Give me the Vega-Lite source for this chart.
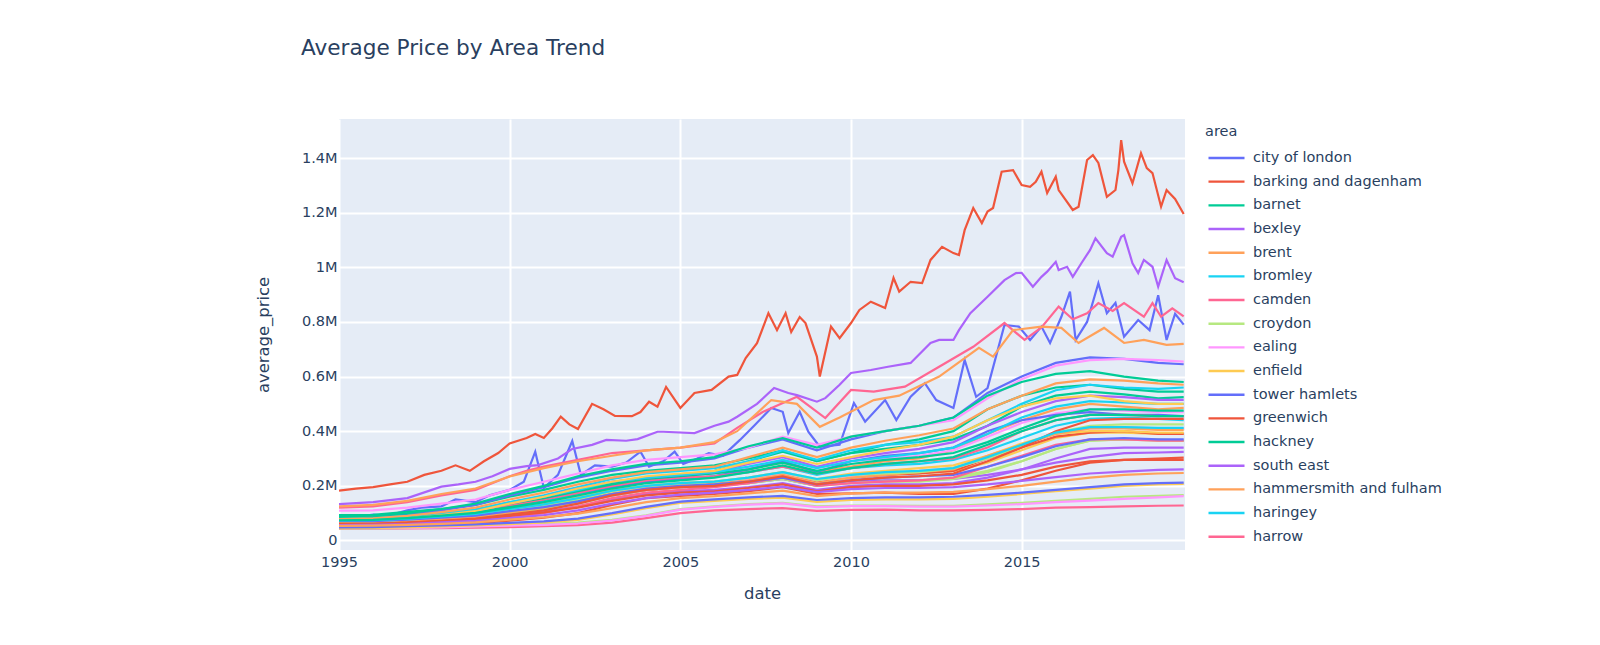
{
  "$schema": "https://vega.github.io/schema/vega-lite/v6.json",
  "width": 846,
  "height": 431,
  "autosize": {"type": "none"},
  "padding": {"left": 339, "top": 119, "right": 415, "bottom": 95},
  "background": "white",
  "title": {
    "text": "Average Price by Area Trend",
    "anchor": "start",
    "frame": "group",
    "dx": -38,
    "offset": 42,
    "baseline": "alphabetic",
    "font": "DejaVu Sans",
    "fontSize": 21.6,
    "fontWeight": "normal",
    "color": "#2a3f5f"
  },
  "data": {
    "values": [
      {"area":"city of london","date":"1995-01","price":91},{"area":"city of london","date":"1995-06","price":85},{"area":"city of london","date":"1996-01","price":95},{"area":"city of london","date":"1996-06","price":90},{"area":"city of london","date":"1997-01","price":110},{"area":"city of london","date":"1997-06","price":120},{"area":"city of london","date":"1998-01","price":125},{"area":"city of london","date":"1998-06","price":150},{"area":"city of london","date":"1999-01","price":140},{"area":"city of london","date":"1999-06","price":165},{"area":"city of london","date":"2000-01","price":185},{"area":"city of london","date":"2000-06","price":215},{"area":"city of london","date":"2000-10","price":325},{"area":"city of london","date":"2001-01","price":192},{"area":"city of london","date":"2001-06","price":240},{"area":"city of london","date":"2001-11","price":364},{"area":"city of london","date":"2002-02","price":240},{"area":"city of london","date":"2002-07","price":275},{"area":"city of london","date":"2003-01","price":270},{"area":"city of london","date":"2003-06","price":285},{"area":"city of london","date":"2003-11","price":325},{"area":"city of london","date":"2004-02","price":270},{"area":"city of london","date":"2004-07","price":290},{"area":"city of london","date":"2004-11","price":325},{"area":"city of london","date":"2005-02","price":280},{"area":"city of london","date":"2005-07","price":300},{"area":"city of london","date":"2005-11","price":320},{"area":"city of london","date":"2006-04","price":310},{"area":"city of london","date":"2006-10","price":368},{"area":"city of london","date":"2007-03","price":420},{"area":"city of london","date":"2007-09","price":485},{"area":"city of london","date":"2008-01","price":471},{"area":"city of london","date":"2008-03","price":393},{"area":"city of london","date":"2008-07","price":471},{"area":"city of london","date":"2008-10","price":398},{"area":"city of london","date":"2009-02","price":343},{"area":"city of london","date":"2009-09","price":350},{"area":"city of london","date":"2010-02","price":503},{"area":"city of london","date":"2010-06","price":435},{"area":"city of london","date":"2011-01","price":514},{"area":"city of london","date":"2011-05","price":441},{"area":"city of london","date":"2011-10","price":526},{"area":"city of london","date":"2012-03","price":576},{"area":"city of london","date":"2012-07","price":514},{"area":"city of london","date":"2013-01","price":485},{"area":"city of london","date":"2013-05","price":661},{"area":"city of london","date":"2013-09","price":526},{"area":"city of london","date":"2014-01","price":558},{"area":"city of london","date":"2014-07","price":789},{"area":"city of london","date":"2014-12","price":783},{"area":"city of london","date":"2015-04","price":734},{"area":"city of london","date":"2015-08","price":783},{"area":"city of london","date":"2015-11","price":723},{"area":"city of london","date":"2016-03","price":819},{"area":"city of london","date":"2016-06","price":911},{"area":"city of london","date":"2016-08","price":734},{"area":"city of london","date":"2016-12","price":800},{"area":"city of london","date":"2017-04","price":942},{"area":"city of london","date":"2017-07","price":832},{"area":"city of london","date":"2017-10","price":870},{"area":"city of london","date":"2018-01","price":746},{"area":"city of london","date":"2018-06","price":807},{"area":"city of london","date":"2018-10","price":770},{"area":"city of london","date":"2019-01","price":898},{"area":"city of london","date":"2019-04","price":734},{"area":"city of london","date":"2019-07","price":830},{"area":"city of london","date":"2019-10","price":790},

      {"area":"barking and dagenham","date":"1995-01","price":51},{"area":"barking and dagenham","date":"1996-01","price":51},{"area":"barking and dagenham","date":"1997-01","price":53},{"area":"barking and dagenham","date":"1998-01","price":57},{"area":"barking and dagenham","date":"1999-01","price":62},{"area":"barking and dagenham","date":"2000-01","price":72},{"area":"barking and dagenham","date":"2001-01","price":83},{"area":"barking and dagenham","date":"2002-01","price":100},{"area":"barking and dagenham","date":"2003-01","price":130},{"area":"barking and dagenham","date":"2004-01","price":155},{"area":"barking and dagenham","date":"2005-01","price":163},{"area":"barking and dagenham","date":"2006-01","price":170},{"area":"barking and dagenham","date":"2007-01","price":180},{"area":"barking and dagenham","date":"2008-01","price":195},{"area":"barking and dagenham","date":"2009-01","price":170},{"area":"barking and dagenham","date":"2010-01","price":172},{"area":"barking and dagenham","date":"2011-01","price":175},{"area":"barking and dagenham","date":"2012-01","price":170},{"area":"barking and dagenham","date":"2013-01","price":170},{"area":"barking and dagenham","date":"2014-01","price":190},{"area":"barking and dagenham","date":"2015-01","price":220},{"area":"barking and dagenham","date":"2016-01","price":255},{"area":"barking and dagenham","date":"2017-01","price":285},{"area":"barking and dagenham","date":"2018-01","price":295},{"area":"barking and dagenham","date":"2019-01","price":300},{"area":"barking and dagenham","date":"2019-10","price":303},

      {"area":"barnet","date":"1995-01","price":93},{"area":"barnet","date":"1996-01","price":94},{"area":"barnet","date":"1997-01","price":105},{"area":"barnet","date":"1998-01","price":115},{"area":"barnet","date":"1999-01","price":130},{"area":"barnet","date":"2000-01","price":160},{"area":"barnet","date":"2001-01","price":185},{"area":"barnet","date":"2002-01","price":215},{"area":"barnet","date":"2003-01","price":240},{"area":"barnet","date":"2004-01","price":255},{"area":"barnet","date":"2005-01","price":265},{"area":"barnet","date":"2006-01","price":275},{"area":"barnet","date":"2007-01","price":300},{"area":"barnet","date":"2008-01","price":330},{"area":"barnet","date":"2009-01","price":290},{"area":"barnet","date":"2010-01","price":320},{"area":"barnet","date":"2011-01","price":335},{"area":"barnet","date":"2012-01","price":350},{"area":"barnet","date":"2013-01","price":370},{"area":"barnet","date":"2014-01","price":420},{"area":"barnet","date":"2015-01","price":490},{"area":"barnet","date":"2016-01","price":530},{"area":"barnet","date":"2017-01","price":545},{"area":"barnet","date":"2018-01","price":535},{"area":"barnet","date":"2019-01","price":520},{"area":"barnet","date":"2019-10","price":525},

      {"area":"bexley","date":"1995-01","price":64},{"area":"bexley","date":"1996-01","price":64},{"area":"bexley","date":"1997-01","price":68},{"area":"bexley","date":"1998-01","price":74},{"area":"bexley","date":"1999-01","price":80},{"area":"bexley","date":"2000-01","price":92},{"area":"bexley","date":"2001-01","price":105},{"area":"bexley","date":"2002-01","price":125},{"area":"bexley","date":"2003-01","price":150},{"area":"bexley","date":"2004-01","price":170},{"area":"bexley","date":"2005-01","price":180},{"area":"bexley","date":"2006-01","price":185},{"area":"bexley","date":"2007-01","price":195},{"area":"bexley","date":"2008-01","price":210},{"area":"bexley","date":"2009-01","price":185},{"area":"bexley","date":"2010-01","price":200},{"area":"bexley","date":"2011-01","price":205},{"area":"bexley","date":"2012-01","price":205},{"area":"bexley","date":"2013-01","price":210},{"area":"bexley","date":"2014-01","price":230},{"area":"bexley","date":"2015-01","price":260},{"area":"bexley","date":"2016-01","price":300},{"area":"bexley","date":"2017-01","price":335},{"area":"bexley","date":"2018-01","price":340},{"area":"bexley","date":"2019-01","price":340},{"area":"bexley","date":"2019-10","price":340},

      {"area":"brent","date":"1995-01","price":71},{"area":"brent","date":"1996-01","price":73},{"area":"brent","date":"1997-01","price":80},{"area":"brent","date":"1998-01","price":90},{"area":"brent","date":"1999-01","price":100},{"area":"brent","date":"2000-01","price":120},{"area":"brent","date":"2001-01","price":140},{"area":"brent","date":"2002-01","price":170},{"area":"brent","date":"2003-01","price":200},{"area":"brent","date":"2004-01","price":215},{"area":"brent","date":"2005-01","price":225},{"area":"brent","date":"2006-01","price":235},{"area":"brent","date":"2007-01","price":260},{"area":"brent","date":"2008-01","price":285},{"area":"brent","date":"2009-01","price":250},{"area":"brent","date":"2010-01","price":270},{"area":"brent","date":"2011-01","price":290},{"area":"brent","date":"2012-01","price":300},{"area":"brent","date":"2013-01","price":330},{"area":"brent","date":"2014-01","price":390},{"area":"brent","date":"2015-01","price":440},{"area":"brent","date":"2016-01","price":480},{"area":"brent","date":"2017-01","price":500},{"area":"brent","date":"2018-01","price":490},{"area":"brent","date":"2019-01","price":480},{"area":"brent","date":"2019-10","price":485},

      {"area":"bromley","date":"1995-01","price":81},{"area":"bromley","date":"1996-01","price":83},{"area":"bromley","date":"1997-01","price":90},{"area":"bromley","date":"1998-01","price":98},{"area":"bromley","date":"1999-01","price":108},{"area":"bromley","date":"2000-01","price":125},{"area":"bromley","date":"2001-01","price":143},{"area":"bromley","date":"2002-01","price":165},{"area":"bromley","date":"2003-01","price":195},{"area":"bromley","date":"2004-01","price":215},{"area":"bromley","date":"2005-01","price":225},{"area":"bromley","date":"2006-01","price":235},{"area":"bromley","date":"2007-01","price":250},{"area":"bromley","date":"2008-01","price":270},{"area":"bromley","date":"2009-01","price":240},{"area":"bromley","date":"2010-01","price":265},{"area":"bromley","date":"2011-01","price":275},{"area":"bromley","date":"2012-01","price":280},{"area":"bromley","date":"2013-01","price":295},{"area":"bromley","date":"2014-01","price":330},{"area":"bromley","date":"2015-01","price":375},{"area":"bromley","date":"2016-01","price":420},{"area":"bromley","date":"2017-01","price":445},{"area":"bromley","date":"2018-01","price":450},{"area":"bromley","date":"2019-01","price":445},{"area":"bromley","date":"2019-10","price":440},

      {"area":"camden","date":"1995-01","price":120},{"area":"camden","date":"1996-01","price":125},{"area":"camden","date":"1997-01","price":140},{"area":"camden","date":"1998-01","price":165},{"area":"camden","date":"1999-01","price":185},{"area":"camden","date":"2000-01","price":235},{"area":"camden","date":"2000-07","price":255},{"area":"camden","date":"2001-01","price":270},{"area":"camden","date":"2002-01","price":295},{"area":"camden","date":"2003-01","price":320},{"area":"camden","date":"2004-01","price":330},{"area":"camden","date":"2005-01","price":340},{"area":"camden","date":"2006-01","price":355},{"area":"camden","date":"2006-09","price":412},{"area":"camden","date":"2007-06","price":470},{"area":"camden","date":"2008-06","price":526},{"area":"camden","date":"2009-04","price":448},{"area":"camden","date":"2010-01","price":551},{"area":"camden","date":"2010-09","price":545},{"area":"camden","date":"2011-08","price":563},{"area":"camden","date":"2012-08","price":636},{"area":"camden","date":"2013-08","price":709},{"area":"camden","date":"2014-07","price":796},{"area":"camden","date":"2015-02","price":734},{"area":"camden","date":"2015-08","price":780},{"area":"camden","date":"2016-02","price":856},{"area":"camden","date":"2016-07","price":810},{"area":"camden","date":"2016-12","price":832},{"area":"camden","date":"2017-04","price":869},{"area":"camden","date":"2017-09","price":840},{"area":"camden","date":"2018-01","price":869},{"area":"camden","date":"2018-08","price":819},{"area":"camden","date":"2018-11","price":869},{"area":"camden","date":"2019-02","price":819},{"area":"camden","date":"2019-06","price":850},{"area":"camden","date":"2019-10","price":820},

      {"area":"croydon","date":"1995-01","price":69},{"area":"croydon","date":"1996-01","price":70},{"area":"croydon","date":"1997-01","price":75},{"area":"croydon","date":"1998-01","price":82},{"area":"croydon","date":"1999-01","price":90},{"area":"croydon","date":"2000-01","price":105},{"area":"croydon","date":"2001-01","price":120},{"area":"croydon","date":"2002-01","price":140},{"area":"croydon","date":"2003-01","price":165},{"area":"croydon","date":"2004-01","price":185},{"area":"croydon","date":"2005-01","price":195},{"area":"croydon","date":"2006-01","price":200},{"area":"croydon","date":"2007-01","price":210},{"area":"croydon","date":"2008-01","price":225},{"area":"croydon","date":"2009-01","price":200},{"area":"croydon","date":"2010-01","price":215},{"area":"croydon","date":"2011-01","price":220},{"area":"croydon","date":"2012-01","price":220},{"area":"croydon","date":"2013-01","price":230},{"area":"croydon","date":"2014-01","price":255},{"area":"croydon","date":"2015-01","price":290},{"area":"croydon","date":"2016-01","price":335},{"area":"croydon","date":"2017-01","price":365},{"area":"croydon","date":"2018-01","price":370},{"area":"croydon","date":"2019-01","price":365},{"area":"croydon","date":"2019-10","price":365},

      {"area":"ealing","date":"1995-01","price":79},{"area":"ealing","date":"1996-01","price":81},{"area":"ealing","date":"1997-01","price":90},{"area":"ealing","date":"1998-01","price":100},{"area":"ealing","date":"1999-01","price":112},{"area":"ealing","date":"2000-01","price":135},{"area":"ealing","date":"2001-01","price":155},{"area":"ealing","date":"2002-01","price":180},{"area":"ealing","date":"2003-01","price":210},{"area":"ealing","date":"2004-01","price":225},{"area":"ealing","date":"2005-01","price":235},{"area":"ealing","date":"2006-01","price":245},{"area":"ealing","date":"2007-01","price":265},{"area":"ealing","date":"2008-01","price":295},{"area":"ealing","date":"2009-01","price":265},{"area":"ealing","date":"2010-01","price":290},{"area":"ealing","date":"2011-01","price":300},{"area":"ealing","date":"2012-01","price":310},{"area":"ealing","date":"2013-01","price":330},{"area":"ealing","date":"2014-01","price":380},{"area":"ealing","date":"2015-01","price":430},{"area":"ealing","date":"2016-01","price":465},{"area":"ealing","date":"2017-01","price":480},{"area":"ealing","date":"2018-01","price":475},{"area":"ealing","date":"2019-01","price":470},{"area":"ealing","date":"2019-10","price":470},

      {"area":"enfield","date":"1995-01","price":72},{"area":"enfield","date":"1996-01","price":72},{"area":"enfield","date":"1997-01","price":77},{"area":"enfield","date":"1998-01","price":84},{"area":"enfield","date":"1999-01","price":92},{"area":"enfield","date":"2000-01","price":108},{"area":"enfield","date":"2001-01","price":123},{"area":"enfield","date":"2002-01","price":145},{"area":"enfield","date":"2003-01","price":175},{"area":"enfield","date":"2004-01","price":195},{"area":"enfield","date":"2005-01","price":205},{"area":"enfield","date":"2006-01","price":210},{"area":"enfield","date":"2007-01","price":220},{"area":"enfield","date":"2008-01","price":240},{"area":"enfield","date":"2009-01","price":215},{"area":"enfield","date":"2010-01","price":230},{"area":"enfield","date":"2011-01","price":240},{"area":"enfield","date":"2012-01","price":245},{"area":"enfield","date":"2013-01","price":255},{"area":"enfield","date":"2014-01","price":285},{"area":"enfield","date":"2015-01","price":330},{"area":"enfield","date":"2016-01","price":375},{"area":"enfield","date":"2017-01","price":395},{"area":"enfield","date":"2018-01","price":395},{"area":"enfield","date":"2019-01","price":390},{"area":"enfield","date":"2019-10","price":390},

      {"area":"tower hamlets","date":"1995-01","price":59},{"area":"tower hamlets","date":"1996-01","price":62},{"area":"tower hamlets","date":"1997-01","price":70},{"area":"tower hamlets","date":"1998-01","price":82},{"area":"tower hamlets","date":"1999-01","price":95},{"area":"tower hamlets","date":"2000-01","price":125},{"area":"tower hamlets","date":"2001-01","price":150},{"area":"tower hamlets","date":"2002-01","price":175},{"area":"tower hamlets","date":"2003-01","price":195},{"area":"tower hamlets","date":"2004-01","price":215},{"area":"tower hamlets","date":"2005-01","price":225},{"area":"tower hamlets","date":"2006-01","price":235},{"area":"tower hamlets","date":"2007-01","price":260},{"area":"tower hamlets","date":"2008-01","price":290},{"area":"tower hamlets","date":"2009-01","price":250},{"area":"tower hamlets","date":"2010-01","price":290},{"area":"tower hamlets","date":"2011-01","price":310},{"area":"tower hamlets","date":"2012-01","price":320},{"area":"tower hamlets","date":"2013-01","price":340},{"area":"tower hamlets","date":"2014-01","price":400},{"area":"tower hamlets","date":"2015-01","price":440},{"area":"tower hamlets","date":"2016-01","price":460},{"area":"tower hamlets","date":"2017-01","price":470},{"area":"tower hamlets","date":"2018-01","price":460},{"area":"tower hamlets","date":"2019-01","price":460},{"area":"tower hamlets","date":"2019-10","price":455},

      {"area":"greenwich","date":"1995-01","price":62},{"area":"greenwich","date":"1996-01","price":63},{"area":"greenwich","date":"1997-01","price":68},{"area":"greenwich","date":"1998-01","price":77},{"area":"greenwich","date":"1999-01","price":85},{"area":"greenwich","date":"2000-01","price":100},{"area":"greenwich","date":"2001-01","price":120},{"area":"greenwich","date":"2002-01","price":145},{"area":"greenwich","date":"2003-01","price":170},{"area":"greenwich","date":"2004-01","price":185},{"area":"greenwich","date":"2005-01","price":195},{"area":"greenwich","date":"2006-01","price":205},{"area":"greenwich","date":"2007-01","price":220},{"area":"greenwich","date":"2008-01","price":240},{"area":"greenwich","date":"2009-01","price":215},{"area":"greenwich","date":"2010-01","price":230},{"area":"greenwich","date":"2011-01","price":240},{"area":"greenwich","date":"2012-01","price":245},{"area":"greenwich","date":"2013-01","price":255},{"area":"greenwich","date":"2014-01","price":300},{"area":"greenwich","date":"2015-01","price":340},{"area":"greenwich","date":"2016-01","price":380},{"area":"greenwich","date":"2017-01","price":395},{"area":"greenwich","date":"2018-01","price":400},{"area":"greenwich","date":"2019-01","price":390},{"area":"greenwich","date":"2019-10","price":390},

      {"area":"hackney","date":"1995-01","price":61},{"area":"hackney","date":"1996-01","price":64},{"area":"hackney","date":"1997-01","price":72},{"area":"hackney","date":"1998-01","price":85},{"area":"hackney","date":"1999-01","price":100},{"area":"hackney","date":"2000-01","price":125},{"area":"hackney","date":"2001-01","price":150},{"area":"hackney","date":"2002-01","price":180},{"area":"hackney","date":"2003-01","price":210},{"area":"hackney","date":"2004-01","price":225},{"area":"hackney","date":"2005-01","price":235},{"area":"hackney","date":"2006-01","price":255},{"area":"hackney","date":"2007-01","price":290},{"area":"hackney","date":"2008-01","price":325},{"area":"hackney","date":"2009-01","price":290},{"area":"hackney","date":"2010-01","price":320},{"area":"hackney","date":"2011-01","price":350},{"area":"hackney","date":"2012-01","price":370},{"area":"hackney","date":"2013-01","price":400},{"area":"hackney","date":"2014-01","price":480},{"area":"hackney","date":"2015-01","price":530},{"area":"hackney","date":"2016-01","price":560},{"area":"hackney","date":"2017-01","price":570},{"area":"hackney","date":"2018-01","price":555},{"area":"hackney","date":"2019-01","price":545},{"area":"hackney","date":"2019-10","price":545},

      {"area":"south east","date":"1995-01","price":73},{"area":"south east","date":"1996-01","price":74},{"area":"south east","date":"1997-01","price":79},{"area":"south east","date":"1998-01","price":87},{"area":"south east","date":"1999-01","price":95},{"area":"south east","date":"2000-01","price":110},{"area":"south east","date":"2001-01","price":125},{"area":"south east","date":"2002-01","price":140},{"area":"south east","date":"2003-01","price":165},{"area":"south east","date":"2004-01","price":185},{"area":"south east","date":"2005-01","price":195},{"area":"south east","date":"2006-01","price":200},{"area":"south east","date":"2007-01","price":210},{"area":"south east","date":"2008-01","price":225},{"area":"south east","date":"2009-01","price":200},{"area":"south east","date":"2010-01","price":215},{"area":"south east","date":"2011-01","price":220},{"area":"south east","date":"2012-01","price":220},{"area":"south east","date":"2013-01","price":225},{"area":"south east","date":"2014-01","price":240},{"area":"south east","date":"2015-01","price":260},{"area":"south east","date":"2016-01","price":285},{"area":"south east","date":"2017-01","price":305},{"area":"south east","date":"2018-01","price":320},{"area":"south east","date":"2019-01","price":322},{"area":"south east","date":"2019-10","price":324},

      {"area":"hammersmith and fulham","date":"1995-01","price":125},{"area":"hammersmith and fulham","date":"1996-01","price":130},{"area":"hammersmith and fulham","date":"1997-01","price":145},{"area":"hammersmith and fulham","date":"1998-01","price":170},{"area":"hammersmith and fulham","date":"1999-01","price":190},{"area":"hammersmith and fulham","date":"2000-01","price":234},{"area":"hammersmith and fulham","date":"2001-01","price":265},{"area":"hammersmith and fulham","date":"2002-01","price":290},{"area":"hammersmith and fulham","date":"2003-01","price":310},{"area":"hammersmith and fulham","date":"2004-01","price":330},{"area":"hammersmith and fulham","date":"2005-01","price":340},{"area":"hammersmith and fulham","date":"2006-01","price":360},{"area":"hammersmith and fulham","date":"2006-09","price":400},{"area":"hammersmith and fulham","date":"2007-09","price":514},{"area":"hammersmith and fulham","date":"2008-06","price":500},{"area":"hammersmith and fulham","date":"2009-02","price":416},{"area":"hammersmith and fulham","date":"2009-09","price":450},{"area":"hammersmith and fulham","date":"2010-09","price":514},{"area":"hammersmith and fulham","date":"2011-06","price":530},{"area":"hammersmith and fulham","date":"2012-08","price":600},{"area":"hammersmith and fulham","date":"2013-10","price":705},{"area":"hammersmith and fulham","date":"2014-03","price":673},{"area":"hammersmith and fulham","date":"2014-10","price":770},{"area":"hammersmith and fulham","date":"2015-08","price":783},{"area":"hammersmith and fulham","date":"2016-03","price":778},{"area":"hammersmith and fulham","date":"2016-09","price":723},{"area":"hammersmith and fulham","date":"2017-06","price":778},{"area":"hammersmith and fulham","date":"2018-01","price":723},{"area":"hammersmith and fulham","date":"2018-08","price":734},{"area":"hammersmith and fulham","date":"2019-04","price":716},{"area":"hammersmith and fulham","date":"2019-10","price":720},

      {"area":"haringey","date":"1995-01","price":75},{"area":"haringey","date":"1996-01","price":77},{"area":"haringey","date":"1997-01","price":86},{"area":"haringey","date":"1998-01","price":98},{"area":"haringey","date":"1999-01","price":112},{"area":"haringey","date":"2000-01","price":140},{"area":"haringey","date":"2001-01","price":165},{"area":"haringey","date":"2002-01","price":195},{"area":"haringey","date":"2003-01","price":225},{"area":"haringey","date":"2004-01","price":245},{"area":"haringey","date":"2005-01","price":255},{"area":"haringey","date":"2006-01","price":265},{"area":"haringey","date":"2007-01","price":290},{"area":"haringey","date":"2008-01","price":330},{"area":"haringey","date":"2009-01","price":295},{"area":"haringey","date":"2010-01","price":330},{"area":"haringey","date":"2011-01","price":350},{"area":"haringey","date":"2012-01","price":360},{"area":"haringey","date":"2013-01","price":380},{"area":"haringey","date":"2014-01","price":440},{"area":"haringey","date":"2015-01","price":500},{"area":"haringey","date":"2016-01","price":550},{"area":"haringey","date":"2017-01","price":570},{"area":"haringey","date":"2018-01","price":560},{"area":"haringey","date":"2019-01","price":555},{"area":"haringey","date":"2019-10","price":560},

      {"area":"harrow","date":"1995-01","price":85},{"area":"harrow","date":"1996-01","price":86},{"area":"harrow","date":"1997-01","price":93},{"area":"harrow","date":"1998-01","price":103},{"area":"harrow","date":"1999-01","price":112},{"area":"harrow","date":"2000-01","price":130},{"area":"harrow","date":"2001-01","price":150},{"area":"harrow","date":"2002-01","price":175},{"area":"harrow","date":"2003-01","price":200},{"area":"harrow","date":"2004-01","price":220},{"area":"harrow","date":"2005-01","price":230},{"area":"harrow","date":"2006-01","price":235},{"area":"harrow","date":"2007-01","price":250},{"area":"harrow","date":"2008-01","price":270},{"area":"harrow","date":"2009-01","price":245},{"area":"harrow","date":"2010-01","price":265},{"area":"harrow","date":"2011-01","price":280},{"area":"harrow","date":"2012-01","price":290},{"area":"harrow","date":"2013-01","price":300},{"area":"harrow","date":"2014-01","price":340},{"area":"harrow","date":"2015-01","price":400},{"area":"harrow","date":"2016-01","price":440},{"area":"harrow","date":"2017-01","price":460},{"area":"harrow","date":"2018-01","price":460},{"area":"harrow","date":"2019-01","price":455},{"area":"harrow","date":"2019-10","price":455},

      {"area":"havering","date":"1995-01","price":68},{"area":"havering","date":"1996-01","price":68},{"area":"havering","date":"1997-01","price":72},{"area":"havering","date":"1998-01","price":79},{"area":"havering","date":"1999-01","price":86},{"area":"havering","date":"2000-01","price":100},{"area":"havering","date":"2001-01","price":115},{"area":"havering","date":"2002-01","price":135},{"area":"havering","date":"2003-01","price":165},{"area":"havering","date":"2004-01","price":185},{"area":"havering","date":"2005-01","price":195},{"area":"havering","date":"2006-01","price":200},{"area":"havering","date":"2007-01","price":210},{"area":"havering","date":"2008-01","price":225},{"area":"havering","date":"2009-01","price":200},{"area":"havering","date":"2010-01","price":210},{"area":"havering","date":"2011-01","price":215},{"area":"havering","date":"2012-01","price":215},{"area":"havering","date":"2013-01","price":225},{"area":"havering","date":"2014-01","price":250},{"area":"havering","date":"2015-01","price":290},{"area":"havering","date":"2016-01","price":335},{"area":"havering","date":"2017-01","price":365},{"area":"havering","date":"2018-01","price":370},{"area":"havering","date":"2019-01","price":370},{"area":"havering","date":"2019-10","price":365},

      {"area":"hillingdon","date":"1995-01","price":74},{"area":"hillingdon","date":"1996-01","price":75},{"area":"hillingdon","date":"1997-01","price":80},{"area":"hillingdon","date":"1998-01","price":88},{"area":"hillingdon","date":"1999-01","price":96},{"area":"hillingdon","date":"2000-01","price":115},{"area":"hillingdon","date":"2001-01","price":130},{"area":"hillingdon","date":"2002-01","price":155},{"area":"hillingdon","date":"2003-01","price":180},{"area":"hillingdon","date":"2004-01","price":200},{"area":"hillingdon","date":"2005-01","price":210},{"area":"hillingdon","date":"2006-01","price":215},{"area":"hillingdon","date":"2007-01","price":225},{"area":"hillingdon","date":"2008-01","price":245},{"area":"hillingdon","date":"2009-01","price":220},{"area":"hillingdon","date":"2010-01","price":235},{"area":"hillingdon","date":"2011-01","price":245},{"area":"hillingdon","date":"2012-01","price":255},{"area":"hillingdon","date":"2013-01","price":265},{"area":"hillingdon","date":"2014-01","price":300},{"area":"hillingdon","date":"2015-01","price":350},{"area":"hillingdon","date":"2016-01","price":390},{"area":"hillingdon","date":"2017-01","price":410},{"area":"hillingdon","date":"2018-01","price":415},{"area":"hillingdon","date":"2019-01","price":410},{"area":"hillingdon","date":"2019-10","price":410},

      {"area":"hounslow","date":"1995-01","price":72},{"area":"hounslow","date":"1996-01","price":73},{"area":"hounslow","date":"1997-01","price":80},{"area":"hounslow","date":"1998-01","price":88},{"area":"hounslow","date":"1999-01","price":97},{"area":"hounslow","date":"2000-01","price":115},{"area":"hounslow","date":"2001-01","price":135},{"area":"hounslow","date":"2002-01","price":160},{"area":"hounslow","date":"2003-01","price":185},{"area":"hounslow","date":"2004-01","price":200},{"area":"hounslow","date":"2005-01","price":210},{"area":"hounslow","date":"2006-01","price":215},{"area":"hounslow","date":"2007-01","price":230},{"area":"hounslow","date":"2008-01","price":250},{"area":"hounslow","date":"2009-01","price":225},{"area":"hounslow","date":"2010-01","price":245},{"area":"hounslow","date":"2011-01","price":255},{"area":"hounslow","date":"2012-01","price":265},{"area":"hounslow","date":"2013-01","price":275},{"area":"hounslow","date":"2014-01","price":310},{"area":"hounslow","date":"2015-01","price":355},{"area":"hounslow","date":"2016-01","price":390},{"area":"hounslow","date":"2017-01","price":400},{"area":"hounslow","date":"2018-01","price":400},{"area":"hounslow","date":"2019-01","price":395},{"area":"hounslow","date":"2019-10","price":395},

      {"area":"islington","date":"1995-01","price":81},{"area":"islington","date":"1996-01","price":84},{"area":"islington","date":"1997-01","price":95},{"area":"islington","date":"1998-01","price":110},{"area":"islington","date":"1999-01","price":130},{"area":"islington","date":"2000-01","price":165},{"area":"islington","date":"2001-01","price":195},{"area":"islington","date":"2002-01","price":230},{"area":"islington","date":"2003-01","price":255},{"area":"islington","date":"2004-01","price":275},{"area":"islington","date":"2005-01","price":285},{"area":"islington","date":"2006-01","price":300},{"area":"islington","date":"2007-01","price":340},{"area":"islington","date":"2008-01","price":370},{"area":"islington","date":"2009-01","price":330},{"area":"islington","date":"2010-01","price":370},{"area":"islington","date":"2011-01","price":400},{"area":"islington","date":"2012-01","price":420},{"area":"islington","date":"2013-01","price":450},{"area":"islington","date":"2014-01","price":540},{"area":"islington","date":"2015-01","price":600},{"area":"islington","date":"2016-01","price":650},{"area":"islington","date":"2017-01","price":670},{"area":"islington","date":"2018-01","price":665},{"area":"islington","date":"2019-01","price":650},{"area":"islington","date":"2019-10","price":645},

      {"area":"kensington and chelsea","date":"1995-01","price":182},{"area":"kensington and chelsea","date":"1995-07","price":190},{"area":"kensington and chelsea","date":"1996-01","price":195},{"area":"kensington and chelsea","date":"1996-07","price":205},{"area":"kensington and chelsea","date":"1997-01","price":215},{"area":"kensington and chelsea","date":"1997-07","price":240},{"area":"kensington and chelsea","date":"1998-01","price":255},{"area":"kensington and chelsea","date":"1998-06","price":275},{"area":"kensington and chelsea","date":"1998-11","price":255},{"area":"kensington and chelsea","date":"1999-04","price":290},{"area":"kensington and chelsea","date":"1999-09","price":320},{"area":"kensington and chelsea","date":"2000-01","price":355},{"area":"kensington and chelsea","date":"2000-07","price":375},{"area":"kensington and chelsea","date":"2000-10","price":390},{"area":"kensington and chelsea","date":"2001-01","price":375},{"area":"kensington and chelsea","date":"2001-04","price":410},{"area":"kensington and chelsea","date":"2001-07","price":453},{"area":"kensington and chelsea","date":"2001-10","price":425},{"area":"kensington and chelsea","date":"2002-01","price":408},{"area":"kensington and chelsea","date":"2002-06","price":500},{"area":"kensington and chelsea","date":"2002-10","price":480},{"area":"kensington and chelsea","date":"2003-02","price":456},{"area":"kensington and chelsea","date":"2003-08","price":455},{"area":"kensington and chelsea","date":"2003-11","price":470},{"area":"kensington and chelsea","date":"2004-02","price":508},{"area":"kensington and chelsea","date":"2004-05","price":490},{"area":"kensington and chelsea","date":"2004-08","price":562},{"area":"kensington and chelsea","date":"2005-01","price":485},{"area":"kensington and chelsea","date":"2005-06","price":540},{"area":"kensington and chelsea","date":"2005-12","price":551},{"area":"kensington and chelsea","date":"2006-06","price":600},{"area":"kensington and chelsea","date":"2006-09","price":606},{"area":"kensington and chelsea","date":"2006-12","price":668},{"area":"kensington and chelsea","date":"2007-04","price":722},{"area":"kensington and chelsea","date":"2007-08","price":832},{"area":"kensington and chelsea","date":"2007-11","price":770},{"area":"kensington and chelsea","date":"2008-02","price":832},{"area":"kensington and chelsea","date":"2008-04","price":763},{"area":"kensington and chelsea","date":"2008-07","price":818},{"area":"kensington and chelsea","date":"2008-09","price":796},{"area":"kensington and chelsea","date":"2009-01","price":673},{"area":"kensington and chelsea","date":"2009-02","price":600},{"area":"kensington and chelsea","date":"2009-06","price":783},{"area":"kensington and chelsea","date":"2009-09","price":741},{"area":"kensington and chelsea","date":"2010-01","price":796},{"area":"kensington and chelsea","date":"2010-04","price":844},{"area":"kensington and chelsea","date":"2010-08","price":874},{"area":"kensington and chelsea","date":"2011-01","price":851},{"area":"kensington and chelsea","date":"2011-04","price":961},{"area":"kensington and chelsea","date":"2011-06","price":911},{"area":"kensington and chelsea","date":"2011-10","price":947},{"area":"kensington and chelsea","date":"2012-02","price":942},{"area":"kensington and chelsea","date":"2012-05","price":1027},{"area":"kensington and chelsea","date":"2012-09","price":1075},{"area":"kensington and chelsea","date":"2013-01","price":1052},{"area":"kensington and chelsea","date":"2013-03","price":1045},{"area":"kensington and chelsea","date":"2013-05","price":1136},{"area":"kensington and chelsea","date":"2013-08","price":1217},{"area":"kensington and chelsea","date":"2013-11","price":1162},{"area":"kensington and chelsea","date":"2014-01","price":1204},{"area":"kensington and chelsea","date":"2014-03","price":1217},{"area":"kensington and chelsea","date":"2014-06","price":1350},{"area":"kensington and chelsea","date":"2014-10","price":1356},{"area":"kensington and chelsea","date":"2015-01","price":1301},{"area":"kensington and chelsea","date":"2015-04","price":1295},{"area":"kensington and chelsea","date":"2015-06","price":1313},{"area":"kensington and chelsea","date":"2015-08","price":1350},{"area":"kensington and chelsea","date":"2015-10","price":1272},{"area":"kensington and chelsea","date":"2016-01","price":1332},{"area":"kensington and chelsea","date":"2016-02","price":1283},{"area":"kensington and chelsea","date":"2016-07","price":1210},{"area":"kensington and chelsea","date":"2016-09","price":1222},{"area":"kensington and chelsea","date":"2016-12","price":1393},{"area":"kensington and chelsea","date":"2017-02","price":1411},{"area":"kensington and chelsea","date":"2017-04","price":1382},{"area":"kensington and chelsea","date":"2017-07","price":1258},{"area":"kensington and chelsea","date":"2017-10","price":1283},{"area":"kensington and chelsea","date":"2017-11","price":1356},{"area":"kensington and chelsea","date":"2017-12","price":1466},{"area":"kensington and chelsea","date":"2018-01","price":1387},{"area":"kensington and chelsea","date":"2018-04","price":1308},{"area":"kensington and chelsea","date":"2018-07","price":1418},{"area":"kensington and chelsea","date":"2018-09","price":1363},{"area":"kensington and chelsea","date":"2018-11","price":1345},{"area":"kensington and chelsea","date":"2019-02","price":1222},{"area":"kensington and chelsea","date":"2019-04","price":1283},{"area":"kensington and chelsea","date":"2019-07","price":1250},{"area":"kensington and chelsea","date":"2019-10","price":1195},

      {"area":"kingston upon thames","date":"1995-01","price":83},{"area":"kingston upon thames","date":"1996-01","price":84},{"area":"kingston upon thames","date":"1997-01","price":91},{"area":"kingston upon thames","date":"1998-01","price":101},{"area":"kingston upon thames","date":"1999-01","price":112},{"area":"kingston upon thames","date":"2000-01","price":135},{"area":"kingston upon thames","date":"2001-01","price":155},{"area":"kingston upon thames","date":"2002-01","price":180},{"area":"kingston upon thames","date":"2003-01","price":205},{"area":"kingston upon thames","date":"2004-01","price":225},{"area":"kingston upon thames","date":"2005-01","price":235},{"area":"kingston upon thames","date":"2006-01","price":245},{"area":"kingston upon thames","date":"2007-01","price":260},{"area":"kingston upon thames","date":"2008-01","price":285},{"area":"kingston upon thames","date":"2009-01","price":255},{"area":"kingston upon thames","date":"2010-01","price":280},{"area":"kingston upon thames","date":"2011-01","price":295},{"area":"kingston upon thames","date":"2012-01","price":305},{"area":"kingston upon thames","date":"2013-01","price":320},{"area":"kingston upon thames","date":"2014-01","price":360},{"area":"kingston upon thames","date":"2015-01","price":410},{"area":"kingston upon thames","date":"2016-01","price":455},{"area":"kingston upon thames","date":"2017-01","price":480},{"area":"kingston upon thames","date":"2018-01","price":480},{"area":"kingston upon thames","date":"2019-01","price":475},{"area":"kingston upon thames","date":"2019-10","price":475},

      {"area":"lambeth","date":"1995-01","price":67},{"area":"lambeth","date":"1996-01","price":70},{"area":"lambeth","date":"1997-01","price":80},{"area":"lambeth","date":"1998-01","price":93},{"area":"lambeth","date":"1999-01","price":107},{"area":"lambeth","date":"2000-01","price":135},{"area":"lambeth","date":"2001-01","price":160},{"area":"lambeth","date":"2002-01","price":190},{"area":"lambeth","date":"2003-01","price":215},{"area":"lambeth","date":"2004-01","price":230},{"area":"lambeth","date":"2005-01","price":240},{"area":"lambeth","date":"2006-01","price":250},{"area":"lambeth","date":"2007-01","price":280},{"area":"lambeth","date":"2008-01","price":305},{"area":"lambeth","date":"2009-01","price":270},{"area":"lambeth","date":"2010-01","price":300},{"area":"lambeth","date":"2011-01","price":320},{"area":"lambeth","date":"2012-01","price":335},{"area":"lambeth","date":"2013-01","price":360},{"area":"lambeth","date":"2014-01","price":420},{"area":"lambeth","date":"2015-01","price":470},{"area":"lambeth","date":"2016-01","price":510},{"area":"lambeth","date":"2017-01","price":530},{"area":"lambeth","date":"2018-01","price":525},{"area":"lambeth","date":"2019-01","price":515},{"area":"lambeth","date":"2019-10","price":515},

      {"area":"lewisham","date":"1995-01","price":60},{"area":"lewisham","date":"1996-01","price":62},{"area":"lewisham","date":"1997-01","price":68},{"area":"lewisham","date":"1998-01","price":77},{"area":"lewisham","date":"1999-01","price":86},{"area":"lewisham","date":"2000-01","price":103},{"area":"lewisham","date":"2001-01","price":120},{"area":"lewisham","date":"2002-01","price":145},{"area":"lewisham","date":"2003-01","price":170},{"area":"lewisham","date":"2004-01","price":185},{"area":"lewisham","date":"2005-01","price":195},{"area":"lewisham","date":"2006-01","price":205},{"area":"lewisham","date":"2007-01","price":220},{"area":"lewisham","date":"2008-01","price":240},{"area":"lewisham","date":"2009-01","price":210},{"area":"lewisham","date":"2010-01","price":230},{"area":"lewisham","date":"2011-01","price":240},{"area":"lewisham","date":"2012-01","price":250},{"area":"lewisham","date":"2013-01","price":260},{"area":"lewisham","date":"2014-01","price":310},{"area":"lewisham","date":"2015-01","price":350},{"area":"lewisham","date":"2016-01","price":390},{"area":"lewisham","date":"2017-01","price":410},{"area":"lewisham","date":"2018-01","price":410},{"area":"lewisham","date":"2019-01","price":405},{"area":"lewisham","date":"2019-10","price":405},

      {"area":"merton","date":"1995-01","price":79},{"area":"merton","date":"1996-01","price":81},{"area":"merton","date":"1997-01","price":90},{"area":"merton","date":"1998-01","price":101},{"area":"merton","date":"1999-01","price":113},{"area":"merton","date":"2000-01","price":140},{"area":"merton","date":"2001-01","price":160},{"area":"merton","date":"2002-01","price":185},{"area":"merton","date":"2003-01","price":215},{"area":"merton","date":"2004-01","price":230},{"area":"merton","date":"2005-01","price":240},{"area":"merton","date":"2006-01","price":250},{"area":"merton","date":"2007-01","price":270},{"area":"merton","date":"2008-01","price":295},{"area":"merton","date":"2009-01","price":265},{"area":"merton","date":"2010-01","price":290},{"area":"merton","date":"2011-01","price":305},{"area":"merton","date":"2012-01","price":320},{"area":"merton","date":"2013-01","price":340},{"area":"merton","date":"2014-01","price":390},{"area":"merton","date":"2015-01","price":450},{"area":"merton","date":"2016-01","price":490},{"area":"merton","date":"2017-01","price":510},{"area":"merton","date":"2018-01","price":505},{"area":"merton","date":"2019-01","price":500},{"area":"merton","date":"2019-10","price":500},

      {"area":"newham","date":"1995-01","price":53},{"area":"newham","date":"1996-01","price":54},{"area":"newham","date":"1997-01","price":58},{"area":"newham","date":"1998-01","price":64},{"area":"newham","date":"1999-01","price":71},{"area":"newham","date":"2000-01","price":85},{"area":"newham","date":"2001-01","price":100},{"area":"newham","date":"2002-01","price":125},{"area":"newham","date":"2003-01","price":155},{"area":"newham","date":"2004-01","price":175},{"area":"newham","date":"2005-01","price":185},{"area":"newham","date":"2006-01","price":195},{"area":"newham","date":"2007-01","price":210},{"area":"newham","date":"2008-01","price":230},{"area":"newham","date":"2009-01","price":200},{"area":"newham","date":"2010-01","price":210},{"area":"newham","date":"2011-01","price":215},{"area":"newham","date":"2012-01","price":220},{"area":"newham","date":"2013-01","price":230},{"area":"newham","date":"2014-01","price":270},{"area":"newham","date":"2015-01","price":310},{"area":"newham","date":"2016-01","price":350},{"area":"newham","date":"2017-01","price":370},{"area":"newham","date":"2018-01","price":370},{"area":"newham","date":"2019-01","price":365},{"area":"newham","date":"2019-10","price":365},

      {"area":"redbridge","date":"1995-01","price":72},{"area":"redbridge","date":"1996-01","price":72},{"area":"redbridge","date":"1997-01","price":77},{"area":"redbridge","date":"1998-01","price":85},{"area":"redbridge","date":"1999-01","price":93},{"area":"redbridge","date":"2000-01","price":110},{"area":"redbridge","date":"2001-01","price":128},{"area":"redbridge","date":"2002-01","price":150},{"area":"redbridge","date":"2003-01","price":180},{"area":"redbridge","date":"2004-01","price":200},{"area":"redbridge","date":"2005-01","price":210},{"area":"redbridge","date":"2006-01","price":215},{"area":"redbridge","date":"2007-01","price":230},{"area":"redbridge","date":"2008-01","price":250},{"area":"redbridge","date":"2009-01","price":220},{"area":"redbridge","date":"2010-01","price":240},{"area":"redbridge","date":"2011-01","price":245},{"area":"redbridge","date":"2012-01","price":250},{"area":"redbridge","date":"2013-01","price":265},{"area":"redbridge","date":"2014-01","price":300},{"area":"redbridge","date":"2015-01","price":345},{"area":"redbridge","date":"2016-01","price":395},{"area":"redbridge","date":"2017-01","price":420},{"area":"redbridge","date":"2018-01","price":425},{"area":"redbridge","date":"2019-01","price":425},{"area":"redbridge","date":"2019-10","price":425},

      {"area":"richmond upon thames","date":"1995-01","price":109},{"area":"richmond upon thames","date":"1996-01","price":110},{"area":"richmond upon thames","date":"1997-01","price":120},{"area":"richmond upon thames","date":"1998-01","price":135},{"area":"richmond upon thames","date":"1999-01","price":150},{"area":"richmond upon thames","date":"2000-01","price":185},{"area":"richmond upon thames","date":"2001-01","price":215},{"area":"richmond upon thames","date":"2002-01","price":245},{"area":"richmond upon thames","date":"2003-01","price":275},{"area":"richmond upon thames","date":"2004-01","price":295},{"area":"richmond upon thames","date":"2005-01","price":305},{"area":"richmond upon thames","date":"2006-01","price":315},{"area":"richmond upon thames","date":"2007-01","price":340},{"area":"richmond upon thames","date":"2008-01","price":380},{"area":"richmond upon thames","date":"2009-01","price":350},{"area":"richmond upon thames","date":"2010-01","price":380},{"area":"richmond upon thames","date":"2011-01","price":400},{"area":"richmond upon thames","date":"2012-01","price":420},{"area":"richmond upon thames","date":"2013-01","price":440},{"area":"richmond upon thames","date":"2014-01","price":520},{"area":"richmond upon thames","date":"2015-01","price":590},{"area":"richmond upon thames","date":"2016-01","price":640},{"area":"richmond upon thames","date":"2017-01","price":660},{"area":"richmond upon thames","date":"2018-01","price":665},{"area":"richmond upon thames","date":"2019-01","price":660},{"area":"richmond upon thames","date":"2019-10","price":655},

      {"area":"southwark","date":"1995-01","price":67},{"area":"southwark","date":"1996-01","price":70},{"area":"southwark","date":"1997-01","price":80},{"area":"southwark","date":"1998-01","price":93},{"area":"southwark","date":"1999-01","price":107},{"area":"southwark","date":"2000-01","price":135},{"area":"southwark","date":"2001-01","price":160},{"area":"southwark","date":"2002-01","price":190},{"area":"southwark","date":"2003-01","price":215},{"area":"southwark","date":"2004-01","price":235},{"area":"southwark","date":"2005-01","price":245},{"area":"southwark","date":"2006-01","price":255},{"area":"southwark","date":"2007-01","price":285},{"area":"southwark","date":"2008-01","price":310},{"area":"southwark","date":"2009-01","price":280},{"area":"southwark","date":"2010-01","price":305},{"area":"southwark","date":"2011-01","price":330},{"area":"southwark","date":"2012-01","price":350},{"area":"southwark","date":"2013-01","price":380},{"area":"southwark","date":"2014-01","price":440},{"area":"southwark","date":"2015-01","price":490},{"area":"southwark","date":"2016-01","price":520},{"area":"southwark","date":"2017-01","price":530},{"area":"southwark","date":"2018-01","price":510},{"area":"southwark","date":"2019-01","price":500},{"area":"southwark","date":"2019-10","price":500},

      {"area":"sutton","date":"1995-01","price":71},{"area":"sutton","date":"1996-01","price":71},{"area":"sutton","date":"1997-01","price":76},{"area":"sutton","date":"1998-01","price":83},{"area":"sutton","date":"1999-01","price":91},{"area":"sutton","date":"2000-01","price":107},{"area":"sutton","date":"2001-01","price":122},{"area":"sutton","date":"2002-01","price":143},{"area":"sutton","date":"2003-01","price":170},{"area":"sutton","date":"2004-01","price":190},{"area":"sutton","date":"2005-01","price":200},{"area":"sutton","date":"2006-01","price":205},{"area":"sutton","date":"2007-01","price":215},{"area":"sutton","date":"2008-01","price":230},{"area":"sutton","date":"2009-01","price":205},{"area":"sutton","date":"2010-01","price":220},{"area":"sutton","date":"2011-01","price":230},{"area":"sutton","date":"2012-01","price":235},{"area":"sutton","date":"2013-01","price":240},{"area":"sutton","date":"2014-01","price":270},{"area":"sutton","date":"2015-01","price":305},{"area":"sutton","date":"2016-01","price":345},{"area":"sutton","date":"2017-01","price":370},{"area":"sutton","date":"2018-01","price":375},{"area":"sutton","date":"2019-01","price":370},{"area":"sutton","date":"2019-10","price":370},

      {"area":"waltham forest","date":"1995-01","price":61},{"area":"waltham forest","date":"1996-01","price":61},{"area":"waltham forest","date":"1997-01","price":65},{"area":"waltham forest","date":"1998-01","price":72},{"area":"waltham forest","date":"1999-01","price":80},{"area":"waltham forest","date":"2000-01","price":95},{"area":"waltham forest","date":"2001-01","price":110},{"area":"waltham forest","date":"2002-01","price":135},{"area":"waltham forest","date":"2003-01","price":165},{"area":"waltham forest","date":"2004-01","price":185},{"area":"waltham forest","date":"2005-01","price":195},{"area":"waltham forest","date":"2006-01","price":200},{"area":"waltham forest","date":"2007-01","price":215},{"area":"waltham forest","date":"2008-01","price":235},{"area":"waltham forest","date":"2009-01","price":205},{"area":"waltham forest","date":"2010-01","price":220},{"area":"waltham forest","date":"2011-01","price":230},{"area":"waltham forest","date":"2012-01","price":235},{"area":"waltham forest","date":"2013-01","price":245},{"area":"waltham forest","date":"2014-01","price":290},{"area":"waltham forest","date":"2015-01","price":340},{"area":"waltham forest","date":"2016-01","price":400},{"area":"waltham forest","date":"2017-01","price":440},{"area":"waltham forest","date":"2018-01","price":445},{"area":"waltham forest","date":"2019-01","price":445},{"area":"waltham forest","date":"2019-10","price":445},

      {"area":"wandsworth","date":"1995-01","price":88},{"area":"wandsworth","date":"1996-01","price":91},{"area":"wandsworth","date":"1997-01","price":100},{"area":"wandsworth","date":"1998-01","price":115},{"area":"wandsworth","date":"1999-01","price":135},{"area":"wandsworth","date":"2000-01","price":170},{"area":"wandsworth","date":"2001-01","price":200},{"area":"wandsworth","date":"2002-01","price":235},{"area":"wandsworth","date":"2003-01","price":260},{"area":"wandsworth","date":"2004-01","price":280},{"area":"wandsworth","date":"2005-01","price":290},{"area":"wandsworth","date":"2006-01","price":305},{"area":"wandsworth","date":"2007-01","price":345},{"area":"wandsworth","date":"2008-01","price":375},{"area":"wandsworth","date":"2009-01","price":340},{"area":"wandsworth","date":"2010-01","price":380},{"area":"wandsworth","date":"2011-01","price":400},{"area":"wandsworth","date":"2012-01","price":420},{"area":"wandsworth","date":"2013-01","price":450},{"area":"wandsworth","date":"2014-01","price":530},{"area":"wandsworth","date":"2015-01","price":580},{"area":"wandsworth","date":"2016-01","price":610},{"area":"wandsworth","date":"2017-01","price":620},{"area":"wandsworth","date":"2018-01","price":600},{"area":"wandsworth","date":"2019-01","price":585},{"area":"wandsworth","date":"2019-10","price":580},

      {"area":"westminster","date":"1995-01","price":133},{"area":"westminster","date":"1996-01","price":140},{"area":"westminster","date":"1997-01","price":155},{"area":"westminster","date":"1998-01","price":197},{"area":"westminster","date":"1998-07","price":205},{"area":"westminster","date":"1999-01","price":215},{"area":"westminster","date":"1999-07","price":235},{"area":"westminster","date":"2000-01","price":262},{"area":"westminster","date":"2000-07","price":272},{"area":"westminster","date":"2000-11","price":276},{"area":"westminster","date":"2001-06","price":300},{"area":"westminster","date":"2001-11","price":335},{"area":"westminster","date":"2002-06","price":350},{"area":"westminster","date":"2002-11","price":368},{"area":"westminster","date":"2003-06","price":365},{"area":"westminster","date":"2003-10","price":371},{"area":"westminster","date":"2004-05","price":398},{"area":"westminster","date":"2004-07","price":398},{"area":"westminster","date":"2005-06","price":393},{"area":"westminster","date":"2006-01","price":420},{"area":"westminster","date":"2006-06","price":435},{"area":"westminster","date":"2006-09","price":453},{"area":"westminster","date":"2007-04","price":500},{"area":"westminster","date":"2007-10","price":558},{"area":"westminster","date":"2008-03","price":540},{"area":"westminster","date":"2008-06","price":532},{"area":"westminster","date":"2009-01","price":508},{"area":"westminster","date":"2009-04","price":521},{"area":"westminster","date":"2009-09","price":570},{"area":"westminster","date":"2010-01","price":613},{"area":"westminster","date":"2010-08","price":624},{"area":"westminster","date":"2011-02","price":636},{"area":"westminster","date":"2011-10","price":650},{"area":"westminster","date":"2012-05","price":723},{"area":"westminster","date":"2012-08","price":734},{"area":"westminster","date":"2013-01","price":734},{"area":"westminster","date":"2013-03","price":770},{"area":"westminster","date":"2013-07","price":832},{"area":"westminster","date":"2014-01","price":892},{"area":"westminster","date":"2014-07","price":953},{"area":"westminster","date":"2014-11","price":979},{"area":"westminster","date":"2015-01","price":980},{"area":"westminster","date":"2015-05","price":929},{"area":"westminster","date":"2015-08","price":965},{"area":"westminster","date":"2015-10","price":984},{"area":"westminster","date":"2016-01","price":1020},{"area":"westminster","date":"2016-02","price":990},{"area":"westminster","date":"2016-05","price":1002},{"area":"westminster","date":"2016-07","price":965},{"area":"westminster","date":"2016-10","price":1015},{"area":"westminster","date":"2017-01","price":1063},{"area":"westminster","date":"2017-03","price":1106},{"area":"westminster","date":"2017-07","price":1052},{"area":"westminster","date":"2017-09","price":1039},{"area":"westminster","date":"2017-12","price":1112},{"area":"westminster","date":"2018-01","price":1118},{"area":"westminster","date":"2018-04","price":1015},{"area":"westminster","date":"2018-06","price":979},{"area":"westminster","date":"2018-08","price":1027},{"area":"westminster","date":"2018-11","price":1002},{"area":"westminster","date":"2019-01","price":929},{"area":"westminster","date":"2019-04","price":1027},{"area":"westminster","date":"2019-07","price":960},{"area":"westminster","date":"2019-10","price":945},

      {"area":"inner london","date":"1995-01","price":78},{"area":"inner london","date":"1996-01","price":81},{"area":"inner london","date":"1997-01","price":90},{"area":"inner london","date":"1998-01","price":104},{"area":"inner london","date":"1999-01","price":120},{"area":"inner london","date":"2000-01","price":150},{"area":"inner london","date":"2001-01","price":175},{"area":"inner london","date":"2002-01","price":205},{"area":"inner london","date":"2003-01","price":230},{"area":"inner london","date":"2004-01","price":250},{"area":"inner london","date":"2005-01","price":260},{"area":"inner london","date":"2006-01","price":270},{"area":"inner london","date":"2007-01","price":305},{"area":"inner london","date":"2008-01","price":340},{"area":"inner london","date":"2009-01","price":305},{"area":"inner london","date":"2010-01","price":340},{"area":"inner london","date":"2011-01","price":365},{"area":"inner london","date":"2012-01","price":385},{"area":"inner london","date":"2013-01","price":410},{"area":"inner london","date":"2014-01","price":480},{"area":"inner london","date":"2015-01","price":530},{"area":"inner london","date":"2016-01","price":575},{"area":"inner london","date":"2017-01","price":590},{"area":"inner london","date":"2018-01","price":585},{"area":"inner london","date":"2019-01","price":575},{"area":"inner london","date":"2019-10","price":570},

      {"area":"outer london","date":"1995-01","price":73},{"area":"outer london","date":"1996-01","price":74},{"area":"outer london","date":"1997-01","price":80},{"area":"outer london","date":"1998-01","price":88},{"area":"outer london","date":"1999-01","price":97},{"area":"outer london","date":"2000-01","price":115},{"area":"outer london","date":"2001-01","price":132},{"area":"outer london","date":"2002-01","price":155},{"area":"outer london","date":"2003-01","price":182},{"area":"outer london","date":"2004-01","price":200},{"area":"outer london","date":"2005-01","price":210},{"area":"outer london","date":"2006-01","price":215},{"area":"outer london","date":"2007-01","price":230},{"area":"outer london","date":"2008-01","price":250},{"area":"outer london","date":"2009-01","price":225},{"area":"outer london","date":"2010-01","price":240},{"area":"outer london","date":"2011-01","price":250},{"area":"outer london","date":"2012-01","price":255},{"area":"outer london","date":"2013-01","price":265},{"area":"outer london","date":"2014-01","price":305},{"area":"outer london","date":"2015-01","price":350},{"area":"outer london","date":"2016-01","price":395},{"area":"outer london","date":"2017-01","price":415},{"area":"outer london","date":"2018-01","price":415},{"area":"outer london","date":"2019-01","price":412},{"area":"outer london","date":"2019-10","price":412},

      {"area":"north east","date":"1995-01","price":43},{"area":"north east","date":"1996-01","price":43},{"area":"north east","date":"1997-01","price":44},{"area":"north east","date":"1998-01","price":45},{"area":"north east","date":"1999-01","price":47},{"area":"north east","date":"2000-01","price":49},{"area":"north east","date":"2001-01","price":52},{"area":"north east","date":"2002-01","price":56},{"area":"north east","date":"2003-01","price":65},{"area":"north east","date":"2004-01","price":82},{"area":"north east","date":"2005-01","price":100},{"area":"north east","date":"2006-01","price":110},{"area":"north east","date":"2007-01","price":115},{"area":"north east","date":"2008-01","price":118},{"area":"north east","date":"2009-01","price":108},{"area":"north east","date":"2010-01","price":112},{"area":"north east","date":"2011-01","price":113},{"area":"north east","date":"2012-01","price":110},{"area":"north east","date":"2013-01","price":110},{"area":"north east","date":"2014-01","price":112},{"area":"north east","date":"2015-01","price":115},{"area":"north east","date":"2016-01","price":120},{"area":"north east","date":"2017-01","price":122},{"area":"north east","date":"2018-01","price":125},{"area":"north east","date":"2019-01","price":127},{"area":"north east","date":"2019-10","price":128},

      {"area":"north west","date":"1995-01","price":44},{"area":"north west","date":"1996-01","price":44},{"area":"north west","date":"1997-01","price":46},{"area":"north west","date":"1998-01","price":49},{"area":"north west","date":"1999-01","price":52},{"area":"north west","date":"2000-01","price":56},{"area":"north west","date":"2001-01","price":60},{"area":"north west","date":"2002-01","price":65},{"area":"north west","date":"2003-01","price":75},{"area":"north west","date":"2004-01","price":92},{"area":"north west","date":"2005-01","price":115},{"area":"north west","date":"2006-01","price":125},{"area":"north west","date":"2007-01","price":133},{"area":"north west","date":"2008-01","price":138},{"area":"north west","date":"2009-01","price":125},{"area":"north west","date":"2010-01","price":128},{"area":"north west","date":"2011-01","price":128},{"area":"north west","date":"2012-01","price":127},{"area":"north west","date":"2013-01","price":127},{"area":"north west","date":"2014-01","price":132},{"area":"north west","date":"2015-01","price":138},{"area":"north west","date":"2016-01","price":145},{"area":"north west","date":"2017-01","price":152},{"area":"north west","date":"2018-01","price":160},{"area":"north west","date":"2019-01","price":163},{"area":"north west","date":"2019-10","price":166},

      {"area":"yorks and the humber","date":"1995-01","price":45},{"area":"yorks and the humber","date":"1996-01","price":45},{"area":"yorks and the humber","date":"1997-01","price":46},{"area":"yorks and the humber","date":"1998-01","price":48},{"area":"yorks and the humber","date":"1999-01","price":51},{"area":"yorks and the humber","date":"2000-01","price":54},{"area":"yorks and the humber","date":"2001-01","price":57},{"area":"yorks and the humber","date":"2002-01","price":62},{"area":"yorks and the humber","date":"2003-01","price":73},{"area":"yorks and the humber","date":"2004-01","price":90},{"area":"yorks and the humber","date":"2005-01","price":113},{"area":"yorks and the humber","date":"2006-01","price":123},{"area":"yorks and the humber","date":"2007-01","price":131},{"area":"yorks and the humber","date":"2008-01","price":136},{"area":"yorks and the humber","date":"2009-01","price":122},{"area":"yorks and the humber","date":"2010-01","price":126},{"area":"yorks and the humber","date":"2011-01","price":126},{"area":"yorks and the humber","date":"2012-01","price":124},{"area":"yorks and the humber","date":"2013-01","price":124},{"area":"yorks and the humber","date":"2014-01","price":128},{"area":"yorks and the humber","date":"2015-01","price":133},{"area":"yorks and the humber","date":"2016-01","price":140},{"area":"yorks and the humber","date":"2017-01","price":146},{"area":"yorks and the humber","date":"2018-01","price":152},{"area":"yorks and the humber","date":"2019-01","price":158},{"area":"yorks and the humber","date":"2019-10","price":162},

      {"area":"east midlands","date":"1995-01","price":45},{"area":"east midlands","date":"1996-01","price":46},{"area":"east midlands","date":"1997-01","price":48},{"area":"east midlands","date":"1998-01","price":51},{"area":"east midlands","date":"1999-01","price":55},{"area":"east midlands","date":"2000-01","price":60},{"area":"east midlands","date":"2001-01","price":66},{"area":"east midlands","date":"2002-01","price":75},{"area":"east midlands","date":"2003-01","price":95},{"area":"east midlands","date":"2004-01","price":118},{"area":"east midlands","date":"2005-01","price":137},{"area":"east midlands","date":"2006-01","price":145},{"area":"east midlands","date":"2007-01","price":152},{"area":"east midlands","date":"2008-01","price":157},{"area":"east midlands","date":"2009-01","price":141},{"area":"east midlands","date":"2010-01","price":148},{"area":"east midlands","date":"2011-01","price":150},{"area":"east midlands","date":"2012-01","price":150},{"area":"east midlands","date":"2013-01","price":152},{"area":"east midlands","date":"2014-01","price":160},{"area":"east midlands","date":"2015-01","price":170},{"area":"east midlands","date":"2016-01","price":180},{"area":"east midlands","date":"2017-01","price":190},{"area":"east midlands","date":"2018-01","price":200},{"area":"east midlands","date":"2019-01","price":205},{"area":"east midlands","date":"2019-10","price":207},

      {"area":"west midlands","date":"1995-01","price":48},{"area":"west midlands","date":"1996-01","price":49},{"area":"west midlands","date":"1997-01","price":52},{"area":"west midlands","date":"1998-01","price":55},{"area":"west midlands","date":"1999-01","price":59},{"area":"west midlands","date":"2000-01","price":64},{"area":"west midlands","date":"2001-01","price":70},{"area":"west midlands","date":"2002-01","price":80},{"area":"west midlands","date":"2003-01","price":100},{"area":"west midlands","date":"2004-01","price":123},{"area":"west midlands","date":"2005-01","price":142},{"area":"west midlands","date":"2006-01","price":150},{"area":"west midlands","date":"2007-01","price":158},{"area":"west midlands","date":"2008-01","price":163},{"area":"west midlands","date":"2009-01","price":148},{"area":"west midlands","date":"2010-01","price":155},{"area":"west midlands","date":"2011-01","price":158},{"area":"west midlands","date":"2012-01","price":158},{"area":"west midlands","date":"2013-01","price":160},{"area":"west midlands","date":"2014-01","price":167},{"area":"west midlands","date":"2015-01","price":175},{"area":"west midlands","date":"2016-01","price":185},{"area":"west midlands","date":"2017-01","price":195},{"area":"west midlands","date":"2018-01","price":205},{"area":"west midlands","date":"2019-01","price":210},{"area":"west midlands","date":"2019-10","price":212},

      {"area":"east of england","date":"1995-01","price":61},{"area":"east of england","date":"1996-01","price":61},{"area":"east of england","date":"1997-01","price":65},{"area":"east of england","date":"1998-01","price":71},{"area":"east of england","date":"1999-01","price":77},{"area":"east of england","date":"2000-01","price":90},{"area":"east of england","date":"2001-01","price":103},{"area":"east of england","date":"2002-01","price":120},{"area":"east of england","date":"2003-01","price":145},{"area":"east of england","date":"2004-01","price":165},{"area":"east of england","date":"2005-01","price":175},{"area":"east of england","date":"2006-01","price":180},{"area":"east of england","date":"2007-01","price":192},{"area":"east of england","date":"2008-01","price":205},{"area":"east of england","date":"2009-01","price":180},{"area":"east of england","date":"2010-01","price":195},{"area":"east of england","date":"2011-01","price":200},{"area":"east of england","date":"2012-01","price":200},{"area":"east of england","date":"2013-01","price":205},{"area":"east of england","date":"2014-01","price":220},{"area":"east of england","date":"2015-01","price":240},{"area":"east of england","date":"2016-01","price":270},{"area":"east of england","date":"2017-01","price":290},{"area":"east of england","date":"2018-01","price":295},{"area":"east of england","date":"2019-01","price":295},{"area":"east of england","date":"2019-10","price":295},

      {"area":"london","date":"1995-01","price":74},{"area":"london","date":"1996-01","price":75},{"area":"london","date":"1997-01","price":82},{"area":"london","date":"1998-01","price":91},{"area":"london","date":"1999-01","price":101},{"area":"london","date":"2000-01","price":120},{"area":"london","date":"2001-01","price":140},{"area":"london","date":"2002-01","price":165},{"area":"london","date":"2003-01","price":190},{"area":"london","date":"2004-01","price":210},{"area":"london","date":"2005-01","price":220},{"area":"london","date":"2006-01","price":230},{"area":"london","date":"2007-01","price":250},{"area":"london","date":"2008-01","price":275},{"area":"london","date":"2009-01","price":245},{"area":"london","date":"2010-01","price":265},{"area":"london","date":"2011-01","price":280},{"area":"london","date":"2012-01","price":290},{"area":"london","date":"2013-01","price":305},{"area":"london","date":"2014-01","price":350},{"area":"london","date":"2015-01","price":400},{"area":"london","date":"2016-01","price":440},{"area":"london","date":"2017-01","price":460},{"area":"london","date":"2018-01","price":460},{"area":"london","date":"2019-01","price":455},{"area":"london","date":"2019-10","price":455},

      {"area":"south west","date":"1995-01","price":56},{"area":"south west","date":"1996-01","price":57},{"area":"south west","date":"1997-01","price":60},{"area":"south west","date":"1998-01","price":66},{"area":"south west","date":"1999-01","price":72},{"area":"south west","date":"2000-01","price":82},{"area":"south west","date":"2001-01","price":93},{"area":"south west","date":"2002-01","price":110},{"area":"south west","date":"2003-01","price":135},{"area":"south west","date":"2004-01","price":155},{"area":"south west","date":"2005-01","price":168},{"area":"south west","date":"2006-01","price":175},{"area":"south west","date":"2007-01","price":185},{"area":"south west","date":"2008-01","price":197},{"area":"south west","date":"2009-01","price":177},{"area":"south west","date":"2010-01","price":188},{"area":"south west","date":"2011-01","price":192},{"area":"south west","date":"2012-01","price":192},{"area":"south west","date":"2013-01","price":195},{"area":"south west","date":"2014-01","price":205},{"area":"south west","date":"2015-01","price":218},{"area":"south west","date":"2016-01","price":232},{"area":"south west","date":"2017-01","price":245},{"area":"south west","date":"2018-01","price":252},{"area":"south west","date":"2019-01","price":258},{"area":"south west","date":"2019-10","price":260},

      {"area":"england","date":"1995-01","price":53},{"area":"england","date":"1996-01","price":54},{"area":"england","date":"1997-01","price":57},{"area":"england","date":"1998-01","price":61},{"area":"england","date":"1999-01","price":66},{"area":"england","date":"2000-01","price":76},{"area":"england","date":"2001-01","price":85},{"area":"england","date":"2002-01","price":98},{"area":"england","date":"2003-01","price":118},{"area":"england","date":"2004-01","price":140},{"area":"england","date":"2005-01","price":155},{"area":"england","date":"2006-01","price":162},{"area":"england","date":"2007-01","price":172},{"area":"england","date":"2008-01","price":182},{"area":"england","date":"2009-01","price":162},{"area":"england","date":"2010-01","price":172},{"area":"england","date":"2011-01","price":175},{"area":"england","date":"2012-01","price":175},{"area":"england","date":"2013-01","price":178},{"area":"england","date":"2014-01","price":188},{"area":"england","date":"2015-01","price":200},{"area":"england","date":"2016-01","price":215},{"area":"england","date":"2017-01","price":230},{"area":"england","date":"2018-01","price":240},{"area":"england","date":"2019-01","price":245},{"area":"england","date":"2019-10","price":247}
    ]
  },
  "mark": {"type": "line", "strokeWidth": 2.2, "clip": true},
  "encoding": {
    "x": {
      "field": "date",
      "type": "temporal",
      "title": "date",
      "scale": {
        "type": "utc",
        "domain": [
          {"year": 1995, "month": 1, "date": 1, "utc": true},
          {"year": 2019, "month": 10, "date": 15, "utc": true}
        ]
      },
      "axis": {
        "values": [
          {"year": 1995, "month": 1, "date": 1, "utc": true},
          {"year": 2000, "month": 1, "date": 1, "utc": true},
          {"year": 2005, "month": 1, "date": 1, "utc": true},
          {"year": 2010, "month": 1, "date": 1, "utc": true},
          {"year": 2015, "month": 1, "date": 1, "utc": true}
        ],
        "format": "%Y",
        "labelFlush": false,
        "labelOverlap": false,
        "labelPadding": 5,
        "ticks": false,
        "domain": false,
        "grid": true,
        "gridColor": "white",
        "gridWidth": 2,
        "labelFont": "DejaVu Sans",
        "labelFontSize": 14.5,
        "labelColor": "#2a3f5f",
        "titleFont": "DejaVu Sans",
        "titleFontSize": 16.4,
        "titleFontWeight": "normal",
        "titleColor": "#2a3f5f",
        "titlePadding": 17
      }
    },
    "y": {
      "field": "price",
      "type": "quantitative",
      "title": "average_price",
      "scale": {"domain": [-35, 1543], "nice": false, "zero": false},
      "axis": {
        "values": [0, 200, 400, 600, 800, 1000, 1200, 1400],
        "labelExpr": "datum.value == 0 ? '0' : format(datum.value / 1000, '~g') + 'M'",
        "labelPadding": 2,
        "ticks": false,
        "domain": false,
        "grid": true,
        "gridColor": "white",
        "gridWidth": 2,
        "labelFont": "DejaVu Sans",
        "labelFontSize": 14.5,
        "labelColor": "#2a3f5f",
        "titleFont": "DejaVu Sans",
        "titleFontSize": 16.4,
        "titleFontWeight": "normal",
        "titleColor": "#2a3f5f",
        "titlePadding": 30
      }
    },
    "color": {
      "field": "area",
      "type": "nominal",
      "title": "area",
      "scale": {
        "domain": ["city of london","barking and dagenham","barnet","bexley","brent","bromley","camden","croydon","ealing","enfield","tower hamlets","greenwich","hackney","south east","hammersmith and fulham","haringey","harrow","havering","hillingdon","hounslow","islington","kensington and chelsea","kingston upon thames","lambeth","lewisham","merton","newham","redbridge","richmond upon thames","southwark","sutton","waltham forest","wandsworth","westminster","inner london","outer london","north east","north west","yorks and the humber","east midlands","west midlands","east of england","london","south west","england"],
        "range": ["#636efa","#EF553B","#00cc96","#ab63fa","#FFA15A","#19d3f3","#FF6692","#B6E880","#FF97FF","#FECB52","#636efa","#EF553B","#00cc96","#ab63fa","#FFA15A","#19d3f3","#FF6692","#B6E880","#FF97FF","#FECB52","#636efa","#EF553B","#00cc96","#ab63fa","#FFA15A","#19d3f3","#FF6692","#B6E880","#FF97FF","#FECB52","#636efa","#EF553B","#00cc96","#ab63fa","#FFA15A","#19d3f3","#FF6692","#B6E880","#FF97FF","#FECB52","#636efa","#EF553B","#00cc96","#ab63fa","#FFA15A"]
      },
      "legend": {
        "values": ["city of london","barking and dagenham","barnet","bexley","brent","bromley","camden","croydon","ealing","enfield","tower hamlets","greenwich","hackney","south east","hammersmith and fulham","haringey","harrow"],
        "orient": "right",
        "offset": 14,
        "padding": 6,
        "symbolType": "stroke",
        "symbolSize": 1296,
        "symbolStrokeWidth": 2.4,
        "symbolOffset": 2,
        "clipHeight": 21,
        "rowPadding": 2.67,
        "labelOffset": 7,
        "labelLimit": 300,
        "labelFont": "DejaVu Sans",
        "labelFontSize": 14.5,
        "labelColor": "#2a3f5f",
        "titleFont": "DejaVu Sans",
        "titleFontSize": 14.5,
        "titleFontWeight": "normal",
        "titleColor": "#2a3f5f",
        "titlePadding": 8
      }
    }
  },
  "config": {
    "view": {"fill": "#E5ECF6", "stroke": null}
  }
}
